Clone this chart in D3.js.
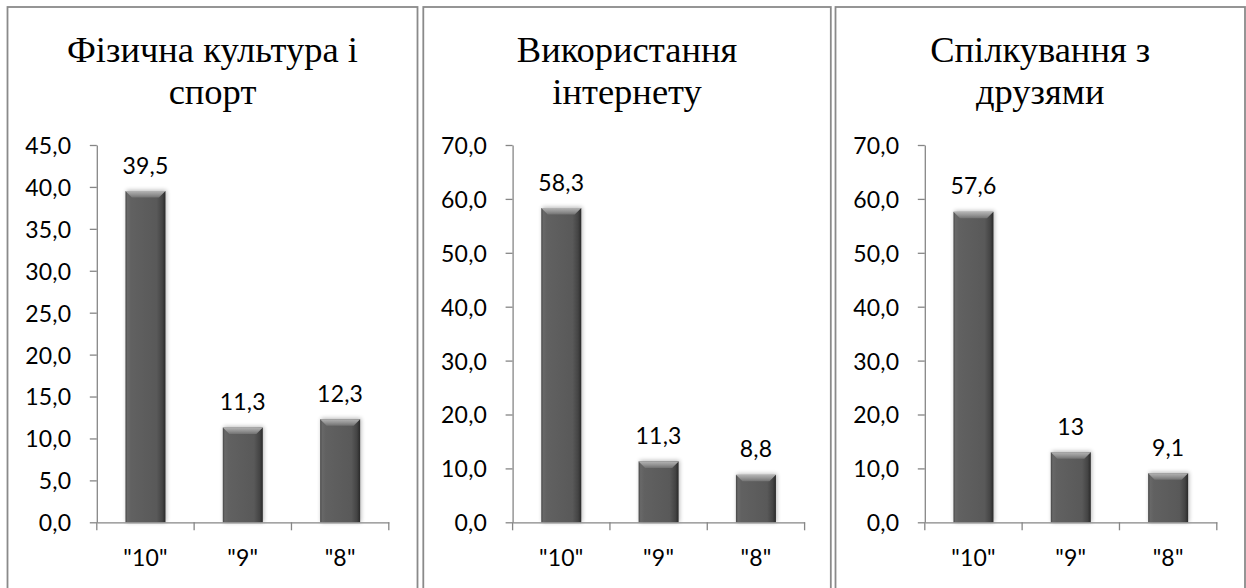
<!DOCTYPE html>
<html>
<head>
<meta charset="utf-8">
<script src="https://cdn.jsdelivr.net/npm/d3@7"></script>
<style>
  html, body { margin: 0; padding: 0; background: #fff; }
  svg { display: block; }
</style>
</head>
<body>
<svg id="chart" width="1246" height="588"></svg>
<script>
// Shared categories (grades) for all three charts
const categories = ['"10"', '"9"', '"8"'];

// Chart titles, one pair of lines per chart
const sportTitle = ["Фізична культура і", "спорт"];
const internetTitle = ["Використання", "інтернету"];
const friendsTitle = ["Спілкування з", "друзями"];

// Percentages per grade
const sportValues = [39.5, 11.3, 12.3];
const internetValues = [58.3, 11.3, 8.8];
const friendsValues = [57.6, 13, 9.1];

// Y-axis tick values
const sportTicks = [0, 5, 10, 15, 20, 25, 30, 35, 40, 45];
const internetTicks = [0, 10, 20, 30, 40, 50, 60, 70];
const friendsTicks = [0, 10, 20, 30, 40, 50, 60, 70];

const charts = [
  { title: sportTitle, values: sportValues, ticks: sportTicks, left: 7.5, width: 410 },
  { title: internetTitle, values: internetValues, ticks: internetTicks, left: 423.3, width: 407.5 },
  { title: friendsTitle, values: friendsValues, ticks: friendsTicks, left: 835.5, width: 409.5 }
];

const svg = d3.select("#chart");
const defs = svg.append("defs");

// Bevelled bar look: body shading, lighter top bevel, soft shadow
const bodyGrad = defs.append("linearGradient").attr("id", "barBody")
  .attr("x1", 0).attr("y1", 0).attr("x2", 1).attr("y2", 0);
[[0, "#454545"], [0.05, "#686868"], [0.14, "#616161"], [0.78, "#595959"], [0.92, "#444444"], [1, "#292929"]]
  .forEach(([o, c]) => bodyGrad.append("stop").attr("offset", o).attr("stop-color", c));

const topGrad = defs.append("linearGradient").attr("id", "barTop")
  .attr("x1", 0).attr("y1", 0).attr("x2", 0).attr("y2", 1);
[[0, "#b4b4b4"], [0.5, "#959595"], [1, "#727272"]]
  .forEach(([o, c]) => topGrad.append("stop").attr("offset", o).attr("stop-color", c));

const shadow = defs.append("filter").attr("id", "barShadow")
  .attr("x", "-30%").attr("y", "-10%").attr("width", "160%").attr("height", "120%");
shadow.append("feGaussianBlur").attr("stdDeviation", 2.2);

const fmtTick = d => d3.format(".1f")(d).replace(".", ",");
const fmtValue = d => String(d).replace(".", ",");

const plotTop = 145, plotBottom = 522.3, axisOffset = 89.3, plotWidth = 292;
const axisColor = "#868686";
const labelFont = "Lato, 'Open Sans', sans-serif";
const labelSize = 23;

charts.forEach(c => {
  const g = svg.append("g");

  // Panel frame
  g.append("rect")
    .attr("x", c.left).attr("y", 7)
    .attr("width", c.width).attr("height", 600)
    .attr("fill", "none").attr("stroke", "#8a8a8a").attr("stroke-width", 1.8);

  // Title
  const cx = c.left + c.width / 2;
  const title = g.append("text")
    .attr("text-anchor", "middle")
    .attr("font-family", "'Liberation Serif', 'Times New Roman', serif")
    .attr("font-size", 36.5)
    .attr("fill", "#000");
  c.title.forEach((line, i) => {
    title.append("tspan").attr("x", cx).attr("y", 62 + i * 41.5).text(line);
  });

  const x0 = c.left + axisOffset;
  const x = d3.scaleBand().domain(categories)
    .range([x0, x0 + plotWidth]).paddingInner(0.589).paddingOuter(0.2945);
  const y = d3.scaleLinear().domain([0, d3.max(c.ticks)]).range([plotBottom, plotTop]);

  // Y axis
  const yAxis = g.append("g").attr("transform", `translate(${x0},0)`)
    .call(d3.axisLeft(y).tickValues(c.ticks).tickSize(7).tickSizeOuter(0).tickPadding(18.5).tickFormat(fmtTick));
  yAxis.selectAll("path, line").attr("stroke", axisColor).attr("stroke-width", 1.3);
  yAxis.selectAll("text")
    .attr("font-family", labelFont)
    .attr("font-size", labelSize).attr("letter-spacing", 0.2)
    .attr("fill", "#000").attr("dy", 8.4);

  // Bars
  const bw = x.bandwidth(), bev = 6.5;
  const bars = g.append("g").selectAll("g").data(c.values).join("g");
  bars.append("rect")
    .attr("x", (d, i) => x(categories[i]) + 1)
    .attr("y", d => y(d) - 1)
    .attr("width", bw).attr("height", d => y(0) - y(d) + 1)
    .attr("fill", "#000").attr("opacity", 0.28).attr("filter", "url(#barShadow)");
  bars.append("rect")
    .attr("x", (d, i) => x(categories[i]))
    .attr("y", d => y(d))
    .attr("width", bw).attr("height", d => y(0) - y(d))
    .attr("fill", "url(#barBody)");
  bars.append("polygon")
    .attr("points", (d, i) => {
      const bx = x(categories[i]), t = y(d);
      return [[bx, t], [bx + bw, t], [bx + bw - bev, t + bev], [bx + bev, t + bev]].join(" ");
    })
    .attr("fill", "url(#barTop)");

  // Value labels
  g.append("g").selectAll("text").data(c.values).join("text")
    .attr("x", (d, i) => x(categories[i]) + bw / 2)
    .attr("y", d => y(d) - 17.5)
    .attr("text-anchor", "middle")
    .attr("font-family", labelFont)
    .attr("font-size", labelSize).attr("letter-spacing", 0.2)
    .attr("fill", "#000")
    .text(fmtValue);

  // X axis: ticks at category boundaries, labels under bars
  const xAxis = g.append("g").attr("transform", `translate(0,${plotBottom})`)
    .call(d3.axisBottom(x).tickSize(0).tickSizeOuter(0));
  xAxis.select(".domain").attr("stroke", axisColor).attr("stroke-width", 1.3);
  xAxis.selectAll("text")
    .attr("y", 44).attr("dy", 0)
    .attr("font-family", labelFont)
    .attr("font-size", labelSize).attr("letter-spacing", 0.2)
    .attr("fill", "#000");
  xAxis.selectAll("line.bound").data(d3.range(categories.length + 1)).join("line")
    .attr("class", "bound")
    .attr("x1", i => x0 + i * x.step()).attr("x2", i => x0 + i * x.step())
    .attr("y1", 0).attr("y2", 8)
    .attr("stroke", axisColor).attr("stroke-width", 1.3);
});
</script>
</body>
</html>
